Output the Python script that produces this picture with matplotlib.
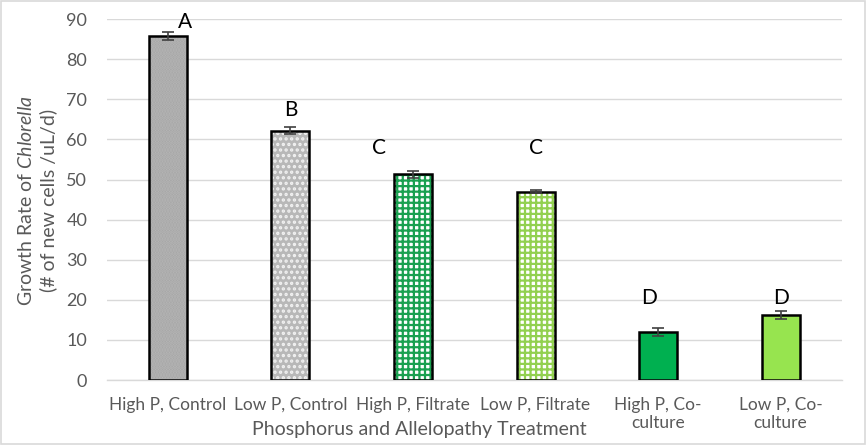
import matplotlib
matplotlib.use("Agg")
import matplotlib.pyplot as plt
from matplotlib.patches import Rectangle

plt.rcParams["font.family"] = ["Lato", "DejaVu Sans"]
plt.rcParams["mathtext.fontset"] = "custom"
plt.rcParams["mathtext.rm"] = "Lato"
plt.rcParams["mathtext.it"] = "Lato:italic"
plt.rcParams["hatch.linewidth"] = 1.6

# data
categories = ["High P, Control", "Low P, Control", "High P, Filtrate",
              "Low P, Filtrate", "High P, Co-\nculture", "Low P, Co-\nculture"]
growth = [85.7, 62.2, 51.3, 47.0, 12.0, 16.3]
errors = [1.0, 0.9, 0.8, 0.3, 0.9, 1.0]
letters = ["A", "B", "C", "C", "D", "D"]
letter_y = [89.3, 67.3, 57.8, 57.8, 20.4, 20.4]
letter_dx = [0.14, 0.0, -0.28, 0.0, -0.07, 0.0]

face_colors = ["#a4a4a4", "#b8b8b8", "white", "white", "#00b050", "#97e44f"]
hatch_colors = ["#b6b6b6", "#f2f2f2", "#1aa050", "#92d050", None, None]
hatches = ["......", "...", "+++", "+++", None, None]

text_color = "#595959"

fig = plt.figure(figsize=(8.67, 4.45), dpi=100)
ax = fig.add_axes([0.123, 0.146, 0.848, 0.811])

x = list(range(len(categories)))
w = 0.31
for i in x:
    if hatches[i]:
        ax.bar(i, growth[i], width=w, color=face_colors[i], hatch=hatches[i],
               edgecolor=hatch_colors[i], linewidth=0, zorder=2)
    else:
        ax.bar(i, growth[i], width=w, color=face_colors[i], linewidth=0, zorder=2)
    ax.bar(i, growth[i], width=w, fill=False, edgecolor="black",
           linewidth=1.8, zorder=3)

ax.errorbar(x, growth, yerr=errors, fmt="none", ecolor="#404040",
            elinewidth=1.2, capsize=4, capthick=1.2, zorder=4)

for i in x:
    ax.text(i + letter_dx[i], letter_y[i], letters[i], ha="center", va="center",
            fontsize=15, color="black", zorder=5)

ax.set_xlim(-0.5, len(categories) - 0.5)
ax.set_ylim(0, 90)
ax.set_yticks(range(0, 91, 10))
ax.set_xticks(x)
ax.set_xticklabels(categories, fontsize=12.5, color=text_color, linespacing=1.2)
ax.tick_params(axis="y", labelsize=13, colors=text_color, length=0, pad=14)
ax.tick_params(axis="x", length=0, pad=12)
ax.grid(axis="y", color="#d9d9d9", linewidth=1.0, zorder=0)
ax.set_axisbelow(True)
for s in ["top", "right", "left"]:
    ax.spines[s].set_visible(False)
ax.spines["bottom"].set_color("#d9d9d9")
ax.spines["bottom"].set_linewidth(1.0)

fig.text(0.484, 0.035, "Phosphorus and Allelopathy Treatment", ha="center",
         va="center", fontsize=14, color=text_color)
fig.text(0.030, 0.55, r"Growth Rate of $\mathit{Chlorella}$", rotation=90,
         ha="center", va="center", fontsize=14, color=text_color)
fig.text(0.056, 0.55, "(# of new cells /uL/d)", rotation=90,
         ha="center", va="center", fontsize=14, color=text_color)

fig.patches.append(Rectangle((0.001, 0.002), 0.997, 0.995, transform=fig.transFigure,
                             fill=False, edgecolor="#d9d9d9", linewidth=1.2))

fig.savefig("out.png", dpi=100)
